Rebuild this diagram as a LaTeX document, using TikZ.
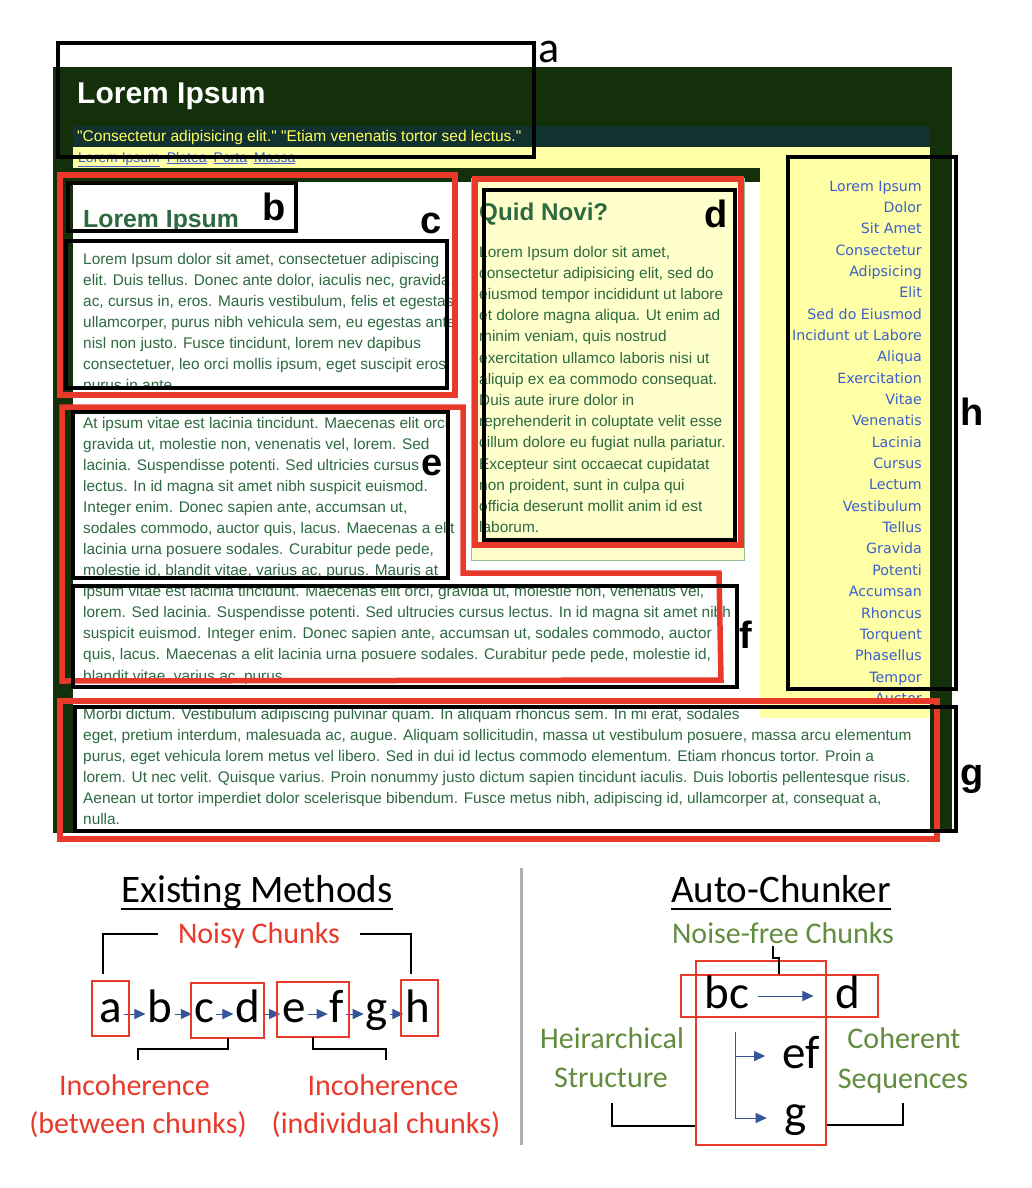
\documentclass[tikz,border=0pt]{standalone}
\usepackage{fontspec}
\setmainfont{Liberation Sans}
\newfontfamily\qfont[Ligatures=ResetAll]{Liberation Sans}
\newfontfamily\calfont{Carlito}
\newfontfamily\verdfont{DejaVu Sans}
\usetikzlibrary{arrows.meta}
\definecolor{pagegreen}{RGB}{20,48,10}
\definecolor{barteal}{RGB}{18,50,48}
\definecolor{navyellow}{RGB}{255,255,166}
\definecolor{novibg}{RGB}{255,255,204}
\definecolor{noviedge}{RGB}{150,190,150}
\definecolor{txtgreen}{RGB}{45,105,65}
\definecolor{linkblue}{RGB}{60,95,205}
\definecolor{hdryellow}{RGB}{255,255,90}
\definecolor{chunkred}{RGB}{232,57,42}
\definecolor{olivegr}{RGB}{98,140,62}
\definecolor{arrowblue}{RGB}{52,84,155}
\definecolor{sepgray}{RGB}{175,175,175}
\tikzset{
  ptxt/.style={anchor=base west, inner sep=0pt, text=txtgreen, font=\fontsize{15.4}{18}\selectfont},
  navtxt/.style={anchor=base east, inner sep=0pt, text=linkblue, font=\verdfont\fontsize{14.2}{17}\selectfont},
  blackbox/.style={draw=black, line width=4pt},
  redbox/.style={draw=chunkred, line width=5.5pt},
  tagl/.style={anchor=base, inner sep=0pt, font=\fontsize{38}{40}\selectfont\bfseries},
  ttl/.style={anchor=base, inner sep=0pt, font=\calfont\fontsize{39}{44}\selectfont},
  capt/.style={anchor=base, inner sep=0pt, font=\calfont\fontsize{30}{36}\selectfont},
  ltr/.style={anchor=base, inner sep=2pt, font=\calfont\fontsize{47}{50}\selectfont},
  thinred/.style={draw=chunkred, line width=2.5pt},
  brk/.style={draw=black, line width=2pt},
  arr/.style={draw=arrowblue, line width=1pt, -{Triangle[length=11pt,width=10pt]}},
}
\begin{document}
\begin{tikzpicture}[x=1pt,y=-1pt]
\useasboundingbox (0,0) rectangle (1032,1188);
\fill[white] (0,0) rectangle (1032,1188);
% ---------- web page background
\fill[pagegreen] (53,67) rectangle (952,833);
\fill[barteal] (73,126) rectangle (930,147);
\fill[navyellow] (73,147) rectangle (930,168);
\fill[navyellow] (760,168) rectangle (930,718);
\fill[white] (73,182) rectangle (760,833);
\fill[white] (760,718) rectangle (930,833);
\filldraw[fill=novibg, draw=noviedge, line width=1pt] (471,178) rectangle (744,560);
% ---------- header
\node[anchor=base west, inner sep=0pt, text=white, font=\fontsize{30}{34}\selectfont\bfseries] (hd) at (77,104) {Lorem Ipsum};
\node[anchor=base west, inner sep=0pt, text=hdryellow, font=\qfont\fontsize{15.5}{18}\selectfont] (quote) at (77,142) {"Consectetur adipisicing elit." "Etiam venenatis tortor sed lectus."};
\node[anchor=base west, inner sep=0pt, text=linkblue, font=\fontsize{14}{17}\selectfont] (nav) at (78,162) {\underline{Lorem Ipsum}\enspace\underline{Platea}\enspace\underline{Porta}\enspace\underline{Massa}};
% ---------- left column
\node[anchor=base west, inner sep=0pt, text=txtgreen, font=\fontsize{24.8}{28}\selectfont\bfseries] (lh) at (83,227) {Lorem Ipsum};
\begin{scope}
\clip (73,240) rectangle (470,389);
\foreach \t [count=\i from 0] in {{Lorem Ipsum dolor sit amet, consectetuer adipiscing},{elit. Duis tellus. Donec ante dolor, iaculis nec, gravida},{ac, cursus in, eros. Mauris vestibulum, felis et egestas},{ullamcorper, purus nibh vehicula sem, eu egestas ante},{nisl non justo. Fusce tincidunt, lorem nev dapibus},{consectetuer, leo orci mollis ipsum, eget suscipit eros},{purus in ante.}}
  \node[ptxt] (c\i) at (83,264+21*\i) {\t};
\end{scope}
\begin{scope}
\clip (73,405) rectangle (470,578);
\foreach \t [count=\i from 0] in {{At ipsum vitae est lacinia tincidunt. Maecenas elit orci},{gravida ut, molestie non, venenatis vel, lorem. Sed},{lacinia. Suspendisse potenti. Sed ultricies cursus},{lectus. In id magna sit amet nibh suspicit euismod.},{Integer enim. Donec sapien ante, accumsan ut,},{sodales commodo, auctor quis, lacus. Maecenas a elit},{lacinia urna posuere sodales. Curabitur pede pede,},{molestie id, blandit vitae, varius ac, purus. Mauris at}}
  \node[ptxt] (e\i) at (83,428+21*\i) {\t};
\end{scope}
\begin{scope}
\clip (73,586) rectangle (760,683);
\foreach \t [count=\i from 0] in {{ipsum vitae est lacinia tincidunt. Maecenas elit orci, gravida ut, molestie non, venenatis vel,},{lorem. Sed lacinia. Suspendisse potenti. Sed ultrucies cursus lectus. In id magna sit amet nibh},{suspicit euismod. Integer enim. Donec sapien ante, accumsan ut, sodales commodo, auctor},{quis, lacus. Maecenas a elit lacinia urna posuere sodales. Curabitur pede pede, molestie id,},{blandit vitae, varius ac, purus.}}
  \node[ptxt] (f\i) at (83,596+21.3*\i) {\t};
\end{scope}
\begin{scope}
\clip (73,706) rectangle (930,833);
\foreach \t [count=\i from 0] in {{Morbi dictum. Vestibulum adipiscing pulvinar quam. In aliquam rhoncus sem. In mi erat, sodales},{eget, pretium interdum, malesuada ac, augue. Aliquam sollicitudin, massa ut vestibulum posuere, massa arcu elementum},{purus, eget vehicula lorem metus vel libero. Sed in dui id lectus commodo elementum. Etiam rhoncus tortor. Proin a},{lorem. Ut nec velit. Quisque varius. Proin nonummy justo dictum sapien tincidunt iaculis. Duis lobortis pellentesque risus.},{Aenean ut tortor imperdiet dolor scelerisque bibendum. Fusce metus nibh, adipiscing id, ullamcorper at, consequat a,},{nulla.}}
  \node[ptxt] (g\i) at (83,719+21*\i) {\t};
\end{scope}
% ---------- middle column
\node[anchor=base west, inner sep=0pt, text=txtgreen, font=\fontsize{24.2}{28}\selectfont\bfseries] (qn) at (479,220) {Quid Novi?};
\foreach \t [count=\i from 0] in {{Lorem Ipsum dolor sit amet,},{consectetur adipisicing elit, sed do},{eiusmod tempor incididunt ut labore},{et dolore magna aliqua. Ut enim ad},{minim veniam, quis nostrud},{exercitation ullamco laboris nisi ut},{aliquip ex ea commodo consequat.},{Duis aute irure dolor in},{reprehenderit in coluptate velit esse},{cillum dolore eu fugiat nulla pariatur.},{Excepteur sint occaecat cupidatat},{non proident, sunt in culpa qui},{officia deserunt mollit anim id est},{laborum.}}
  \node[ptxt] (d\i) at (479,257+21.2*\i) {\t};
% ---------- right column
\foreach \t [count=\i from 0] in {Lorem Ipsum,Dolor,Sit Amet,Consectetur,Adipsicing,Elit,Sed do Eiusmod,Incidunt ut Labore,Aliqua,Exercitation,Vitae,Venenatis,Lacinia,Cursus,Lectum,Vestibulum,Tellus,Gravida,Potenti,Accumsan,Rhoncus,Torquent,Phasellus,Tempor,Auctor}
  \node[navtxt] (h\i) at (922,191+21.35*\i) {\t};
% ---------- chunk boxes
\draw[redbox] (60,175) rectangle (455,395);
\draw[redbox] (475,179) rectangle (741,545);
\draw[redbox] (62,407) -- (463,407) -- (463,573) -- (719,573) -- (721,680) -- (62,681) -- cycle;
\draw[redbox] (60,701) rectangle (937,839);
\draw[blackbox] (58,43) rectangle (534,157);
\draw[blackbox] (68,183) rectangle (296,231);
\draw[blackbox] (66,241) rectangle (447,388);
\draw[blackbox] (484,190) rectangle (735,540);
\draw[blackbox] (73,412) rectangle (448,578);
\draw[blackbox] (73,586) rectangle (737,687);
\draw[blackbox] (75,707) rectangle (956,831);
\draw[blackbox] (788,157) rectangle (956,689);
% ---------- chunk tags
\node[anchor=base, inner sep=0pt, font=\calfont\fontsize{44}{48}\selectfont] (ta) at (549,63) {a};
\node[tagl] (tb) at (274,220) {b};
\node[tagl] (tc) at (431,233) {c};
\node[tagl] (td) at (716,227) {d};
\node[tagl] (te) at (432,475) {e};
\node[tagl] (tf) at (746,648) {f};
\node[tagl] (tg) at (972,785) {g};
\node[tagl] (th) at (972,425) {h};
% ---------- separator
\draw[sepgray, line width=3pt] (521,868) -- (521,1145);
% ---------- existing methods
\node[ttl] (em) at (257,902) {Existing Methods};
\draw[line width=2pt] ([yshift=-7pt]em.base west) -- ([yshift=-7pt]em.base east);
\node[capt, text=chunkred] (noisy) at (259,943) {Noisy Chunks};
\foreach \l/\x in {a/111,b/160,c/204,d/248,e/294,f/337,g/377,h/418}
  \node[ltr] (L\l) at (\x,1022) {\l};
\foreach \p/\q in {a/b,b/c,c/d,d/e,e/f,f/g,g/h}
  \draw[arr] ([yshift=8pt]L\p.base east) -- ([yshift=8pt]L\q.base west);
\node[thinred, minimum width=37pt, minimum height=55pt, inner sep=0pt] (Ra) at (110.5,1008.5) {};
\node[thinred, minimum width=73pt, minimum height=55pt, inner sep=0pt] (Rcd) at (227.5,1010.5) {};
\node[thinred, minimum width=72pt, minimum height=55pt, inner sep=0pt] (Ref) at (313,1009.5) {};
\node[thinred, minimum width=37pt, minimum height=56pt, inner sep=0pt] (Rh) at (419.5,1008) {};
\coordinate (nl1) at (158,934); \coordinate (nl2) at (103,934); \coordinate (nl3) at (103,974);
\coordinate (nr1) at (360,934); \coordinate (nr2) at (411,934); \coordinate (nr3) at (411,974);
\draw[brk] (nl1) -- (nl2) -- (nl3);
\draw[brk] (nr1) -- (nr2) -- (nr3);
\coordinate (bl1) at (228,1038); \coordinate (bl2) at (228,1049); \coordinate (bl3) at (138,1049); \coordinate (bl4) at (138,1060);
\coordinate (br1) at (313,1037); \coordinate (br2) at (313,1049); \coordinate (br3) at (386,1049); \coordinate (br4) at (386,1060);
\draw[brk] (bl1) -- (bl2) -- (bl3) -- (bl4);
\draw[brk] (br1) -- (br2) -- (br3) -- (br4);
\node[capt, text=chunkred] (inc1) at (134.5,1095) {Incoherence};
\node[capt, text=chunkred] (btw) at (138,1133) {(between chunks)};
\node[capt, text=chunkred] (inc2) at (383,1095) {Incoherence};
\node[capt, text=chunkred] (ind) at (386,1133) {(individual chunks)};
% ---------- auto-chunker
\node[ttl] (ac) at (781,902) {Auto-Chunker};
\draw[line width=2pt] ([yshift=-7pt]ac.base west) -- ([yshift=-7pt]ac.base east);
\node[capt, text=olivegr] (nf) at (783,943) {Noise-free Chunks};
\node[thinred, minimum width=130pt, minimum height=184pt, inner sep=0pt] (Rv) at (761,1053) {};
\node[thinred, minimum width=197pt, minimum height=42pt, inner sep=0pt] (Rh2) at (779.5,996) {};
\node[ltr] (bc) at (727,1008) {bc};
\node[ltr] (dd) at (848,1008) {d};
\node[ltr] (ef) at (801,1068) {ef};
\node[ltr] (gg) at (796,1127) {g};
\draw[arr] ([xshift=7pt,yshift=12pt]bc.base east) -- ([xshift=-20pt,yshift=12pt]dd.base west);
\coordinate (troot) at (735,1032);
\draw[arr] (troot) |- ([xshift=-15pt,yshift=12pt]ef.base west);
\draw[arr] (troot) |- ([xshift=-16pt,yshift=9pt]gg.base west);
\coordinate (nf1) at (773,946); \coordinate (nf2) at (773,958); \coordinate (nf3) at (779,958);
\draw[brk] (nf1) -- (nf2) -- (nf3) -- (Rh2.north -| nf3);
\node[capt, text=olivegr] (hier) at (612,1048) {Heirarchical};
\node[capt, text=olivegr] (stru) at (611,1087) {Structure};
\node[capt, text=olivegr] (coh) at (904,1048) {Coherent};
\node[capt, text=olivegr] (seq) at (903,1088) {Sequences};
\coordinate (hs1) at (612,1103); \coordinate (hs2) at (612,1126);
\draw[brk] (hs1) -- (hs2) -- (hs2 -| Rv.west);
\coordinate (cs1) at (903,1103); \coordinate (cs2) at (903,1125);
\draw[brk] (cs1) -- (cs2) -- (cs2 -| Rv.east);
\end{tikzpicture}
\end{document}
